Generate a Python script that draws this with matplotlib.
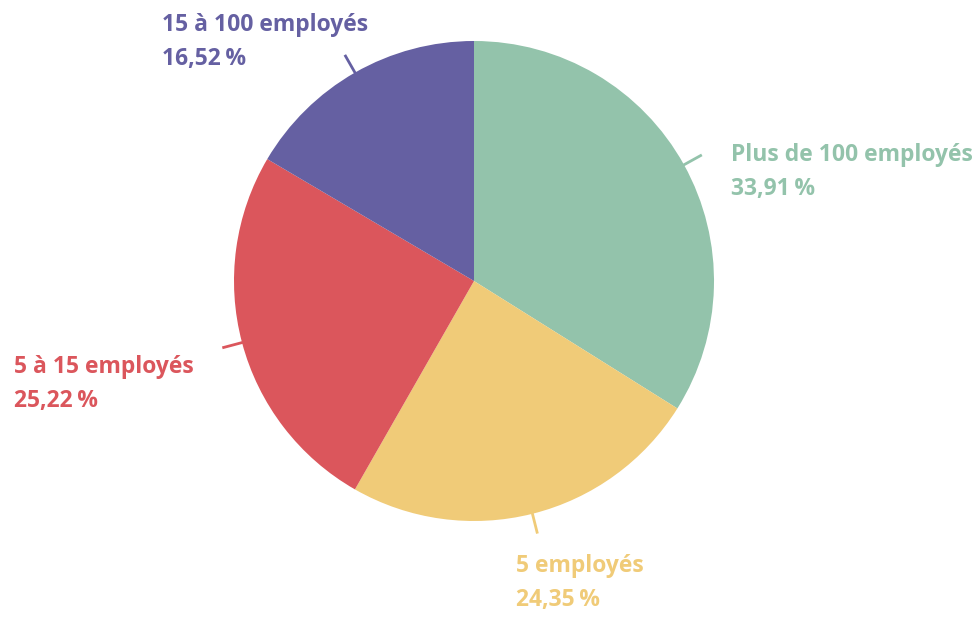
import numpy as np
import matplotlib.pyplot as plt

# Répartition par taille d'entreprise
categories = ['Plus de 100 employés', '5 employés', '5 à 15 employés', '15 à 100 employés']
parts = [33.91, 24.35, 25.22, 16.52]
couleurs = ['#93c3ab', '#f0cb78', '#db565c', '#6560a2']

# position du coin gauche du texte (pixels, origine en haut à gauche)
pos_labels = [(731, 172), (516, 583), (14, 384), (162, 42)]

W, H = 977, 618
fig = plt.figure(figsize=(W / 100, H / 100), dpi=100)
ax = fig.add_axes([0, 0, 1, 1])

cx, cy, r = 474, 281, 240
# pie dessine dans un repère y vers le haut ; avec l'axe y inversé on inverse le sens
wedges, _ = ax.pie(parts, colors=couleurs, startangle=-90, counterclock=True,
                   center=(cx, cy), radius=r, frame=True,
                   wedgeprops=dict(linewidth=0))
ax.set_xlim(0, W)
ax.set_ylim(H, 0)          # coordonnées en pixels
ax.set_aspect('equal')
ax.axis('off')

for w, lab, p, c, (lx, ly) in zip(wedges, categories, parts, couleurs, pos_labels):
    mid = np.deg2rad((w.theta1 + w.theta2) / 2)
    x0, y0 = cx + 0.99 * r * np.cos(mid), cy + 0.99 * r * np.sin(mid)
    x1, y1 = cx + 1.085 * r * np.cos(mid), cy + 1.085 * r * np.sin(mid)
    ax.plot([x0, x1], [y0, y1], color=c, lw=2, solid_capstyle='butt')
    texte = f"{lab}\n{p:.2f}".replace('.', ',') + "\u2009%"
    ax.text(lx, ly, texte, color=c, fontsize=16.5, fontweight='bold',
            family=['Open Sans', 'DejaVu Sans'], ha='left', va='center',
            linespacing=1.55)

fig.savefig('out.png', dpi=100)
